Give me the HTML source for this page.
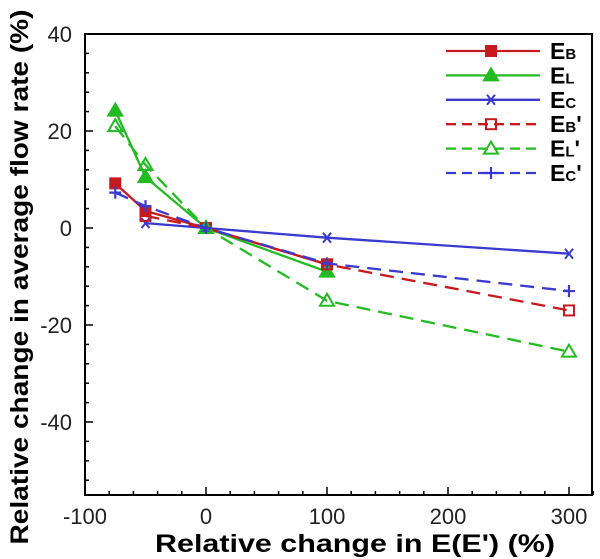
<!DOCTYPE html>
<html><head><meta charset="utf-8"><style>
body{margin:0;background:#fff}
svg{display:block;font-family:"Liberation Sans",Arial,sans-serif}
</style></head><body>
<svg id="chart" width="600" height="559" viewBox="0 0 600 559"></svg>
<script>
const xVals=[-75,-50,0,100,300];
const EB=[9.2,3.5,0,-7.5,null];
const EL=[24.2,10.5,0,-9,null];
const EC=[null,1,0,-2,-5.3];
const EBp=[null,2.5,0,-7.5,-17];
const ELp=[21,13,0,-15,-25.5];
const ECp=[7.3,4.5,0,-7.3,-13];
const xTicks=[-100,0,100,200,300];
const xTickLabels=["-100","0","100","200","300"];
const yTicks=[-40,-20,0,20,40];
const yTickLabels=["-40","-20","0","20","40"];
const L=85,R=592,T=34,B=495;
const X=v=>206+(v)*1.21;
const Y=v=>228-(v)*4.85;
const svg=document.getElementById('chart');
const NS="http://www.w3.org/2000/svg";
function mk(tag,attrs,parent){const e=document.createElementNS(NS,tag);for(const k in attrs)e.setAttribute(k,attrs[k]);(parent||svg).appendChild(e);return e;}
for(let v=-100;v<=320;v+=20){const maj=v%100===0;
 const t=mk('line',{x1:X(v),x2:X(v),y1:B,y2:B-(maj?8:4),stroke:'#000','stroke-width':1.5});
 }
for(let v=-52;v<=40;v+=4){const maj=v%20===0;
 const t=mk('line',{x1:L,x2:L+(maj?8:4),y1:Y(v),y2:Y(v),stroke:'#000','stroke-width':1.5});
 }
xTicks.forEach((v,i)=>{const t=mk('text',{x:X(v),y:524,'font-size':22,'text-anchor':'middle',fill:'#222'});t.textContent=xTickLabels[i];
 });
yTicks.forEach((v,i)=>{const t=mk('text',{x:72,y:Y(v)+8,'font-size':22,'text-anchor':'end',fill:'#222'});t.textContent=yTickLabels[i];
 });
const series=[
 {d:EB,c:'#c8191e',dash:'',m:'sq',f:true,name:'EB',sub:'B',p:''},
 {d:EL,c:'#22bb22',dash:'',m:'tri',f:true,name:'EL',sub:'L',p:''},
 {d:EC,c:'#3a3ad0',dash:'',m:'x',f:true,name:'EC',sub:'C',p:''},
 {d:EBp,c:'#c8191e',dash:'14 8',m:'sq',f:false,name:'EBp',sub:'B',p:"'"},
 {d:ELp,c:'#22bb22',dash:'14 8',m:'tri',f:false,name:'ELp',sub:'L',p:"'"},
 {d:ECp,c:'#3a3ad0',dash:'14 8',m:'plus',f:false,name:'ECp',sub:'C',p:"'"}];
function marker(type,x,y,c,filled,g){
 let e;
 if(type==='sq')e=mk('rect',{x:x-5,y:y-5,width:10,height:10,fill:filled?c:'none',stroke:c,'stroke-width':2},g);
 else if(type==='tri')e=mk('polygon',{points:`${x},${y-7} ${x-7},${y+5} ${x+7},${y+5}`,fill:filled?c:'none',stroke:c,'stroke-width':2},g);
 else if(type==='x')e=mk('path',{d:`M${x-4} ${y-5}L${x+4} ${y+5}M${x+4} ${y-5}L${x-4} ${y+5}`,stroke:c,'stroke-width':2},g);
 else e=mk('path',{d:`M${x-6} ${y}H${x+6}M${x} ${y-6}V${y+6}`,stroke:c,'stroke-width':2.2},g);
 
}
series.forEach((s,si)=>{
 const g=mk('g',{});
 const pts=[];s.d.forEach((v,i)=>{if(v!==null)pts.push([X(xVals[i]),Y(v)]);});
 const pl=mk('polyline',{points:pts.map(p=>p.join(',')).join(' '),fill:'none',stroke:s.c,'stroke-width':2.3,'stroke-dasharray':s.dash},g);
 
 pts.forEach(p=>marker(s.m,p[0],p[1],s.c,s.f,g));
 const ly=51+si*24.4;
 const lg=mk('g',{});
 mk('line',{x1:446,x2:540,y1:ly,y2:ly,stroke:s.c,'stroke-width':2.3,'stroke-dasharray':s.dash?'10 6':''},lg);
 marker(s.m,491,ly,s.c,s.f,lg);
 const t=mk('text',{x:550,y:ly+8,'font-size':23,'font-weight':'bold',fill:'#000'},lg);
 t.innerHTML=`E<tspan font-size="15">${s.sub}</tspan>${s.p}`;
});
const fr=mk('rect',{x:L,y:T,width:R-L,height:B-T,fill:'none',stroke:'#000','stroke-width':2});

const xt=mk('text',{x:355,y:552,'font-size':25,'font-weight':'bold','text-anchor':'middle',fill:'#000',textLength:400,lengthAdjust:'spacingAndGlyphs'});
xt.textContent="Relative change in E(E') (%)";

const yt=mk('text',{x:0,y:0,'font-size':25,'font-weight':'bold','text-anchor':'middle',fill:'#000',transform:'translate(28,277) rotate(-90)',textLength:535,lengthAdjust:'spacingAndGlyphs'});
yt.textContent="Relative change in average flow rate (%)";

</script>
</body></html>
